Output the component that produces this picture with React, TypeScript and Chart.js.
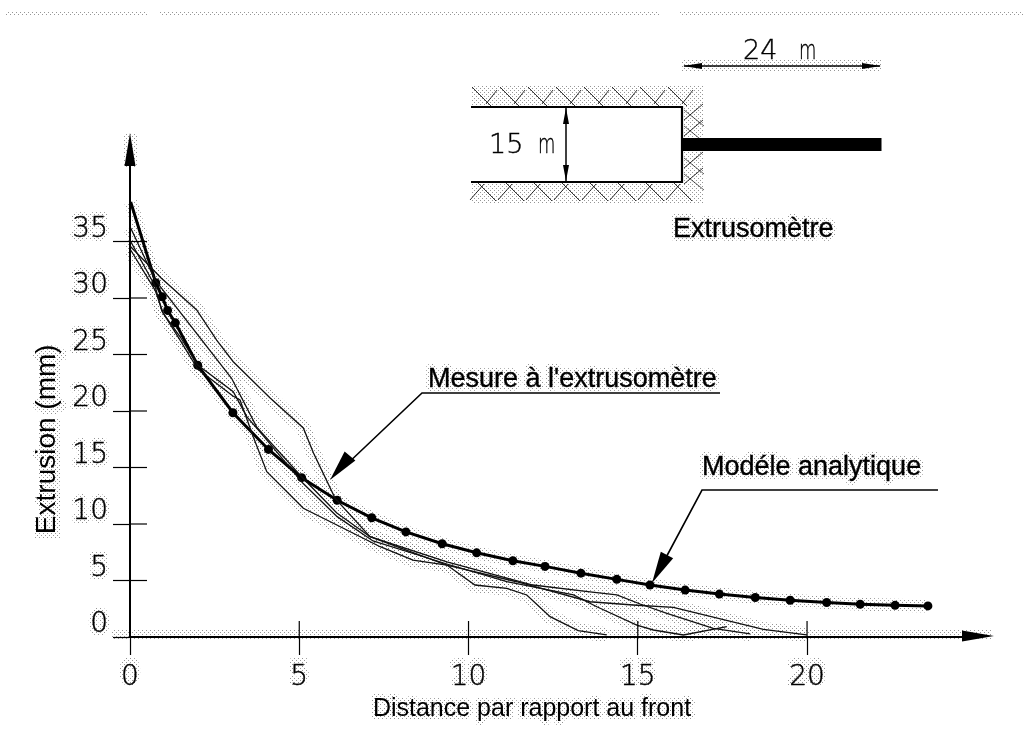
import React, { useEffect, useRef } from "react";
import { Chart, registerables } from "chart.js";

Chart.register(...registerables);

const xTickValues = [0, 5, 10, 15, 20];
const yTickValues = [0, 5, 10, 15, 20, 25, 30, 35];

const modelX = [0.02, 0.76, 0.95, 1.11, 1.34, 2.0, 3.04, 4.09, 5.07, 6.12, 7.14, 8.15, 9.22, 10.24, 11.31, 12.26, 13.32, 14.38, 15.36, 16.4, 17.41, 18.47, 19.5, 20.58, 21.57, 22.6, 23.57];
const modelY = [38.5, 31.35, 30.1, 28.9, 27.8, 24.05, 19.85, 16.6, 14.1, 12.1, 10.55, 9.3, 8.25, 7.45, 6.75, 6.25, 5.65, 5.1, 4.6, 4.15, 3.8, 3.5, 3.25, 3.05, 2.9, 2.8, 2.75];

const measureAX = [0.02, 0.92, 1.97, 2.56, 3.05, 4.14, 5.12, 5.42, 6.06, 7.09, 9.36, 11.42, 13.59, 14.86, 16.05, 18.71, 19.99];
const measureAY = [34.54, 31.77, 28.94, 26.28, 24.36, 21.15, 18.5, 16.28, 12.27, 8.88, 6.37, 4.89, 3.12, 2.83, 2.63, 0.68, 0.18];

const measureBX = [0.02, 0.74, 3.0, 3.74, 5.02, 6.11, 7.09, 9.36, 11.9, 13.59, 14.38, 15.07, 15.86, 17.23, 18.32];
const measureBY = [36.2, 31.6, 22.9, 18.6, 14.34, 10.97, 8.88, 6.64, 4.6, 4.0, 3.72, 2.92, 2.1, 0.77, 0.27];

const measureCX = [0.02, 0.74, 0.98, 1.48, 2.0, 3.05, 3.45, 3.94, 5.11, 6.12, 7.18, 9.36, 11.13, 13.1, 13.79, 14.97, 15.46, 16.35, 17.63];
const measureCY = [34.25, 30.7, 28.67, 26.57, 24.07, 21.7, 19.5, 17.8, 13.6, 10.65, 8.5, 6.46, 4.89, 3.72, 2.68, 1.06, 0.62, 0.18, 0.91];

const measureDX = [0.02, 0.74, 0.94, 1.48, 2.0, 3.04, 3.25, 3.64, 4.04, 5.12, 6.11, 7.39, 8.36, 9.36, 10.19, 11.13, 11.72, 12.41, 13.24, 14.08];
const measureDY = [35.0, 31.06, 28.85, 26.28, 23.72, 21.33, 20.97, 17.73, 14.63, 11.39, 9.91, 7.99, 6.81, 6.37, 4.6, 4.31, 3.72, 1.8, 0.56, 0.18];

const zip = (xs: number[], ys: number[]) => xs.map((x, i) => ({ x, y: ys[i] }));

const SANS = '"Liberation Sans", Arial, sans-serif';
const THIN = '"DejaVu Sans", sans-serif';

function stipple(ctx: CanvasRenderingContext2D) {
  const t = document.createElement("canvas");
  t.width = 4;
  t.height = 4;
  const c = t.getContext("2d")!;
  c.fillStyle = "rgba(105,105,105,0.7)";
  c.fillRect(0, 0, 1, 1);
  c.fillRect(2, 2, 1, 1);
  return ctx.createPattern(t, "repeat")!;
}

function arrow(ctx: CanvasRenderingContext2D, tx: number, ty: number, bx: number, by: number, hw: number) {
  const dx = bx - tx;
  const dy = by - ty;
  const l = Math.hypot(dx, dy);
  const nx = (-dy / l) * hw;
  const ny = (dx / l) * hw;
  ctx.beginPath();
  ctx.moveTo(tx, ty);
  ctx.lineTo(bx + nx, by + ny);
  ctx.lineTo(bx - nx, by - ny);
  ctx.closePath();
  ctx.fill();
}

function seg(ctx: CanvasRenderingContext2D, pts: number[][], w: number) {
  ctx.lineWidth = w;
  ctx.beginPath();
  pts.forEach((p, i) => (i ? ctx.lineTo(p[0], p[1]) : ctx.moveTo(p[0], p[1])));
  ctx.stroke();
}

const texts: [string, number, number, string, number][] = [
  ["Mesure à l'extrusomètre", 428, 387, SANS, 27],
  ["Modéle analytique", 702, 475, SANS, 27],
  ["Extrusomètre", 673, 237, SANS, 27],
];

const backdrop = {
  id: "backdrop",
  beforeDraw(chart: any) {
    const { ctx, scales } = chart;
    const pat = stipple(ctx);
    const x = scales.x;
    const y = scales.y;
    ctx.save();
    ctx.fillStyle = "#fff";
    ctx.fillRect(0, 0, chart.width, chart.height);
    ctx.fillStyle = pat;
    // scan band at the top of the page
    ctx.fillRect(5, 11, 143, 4);
    ctx.fillRect(160, 11, 499, 4);
    ctx.fillRect(679, 11, 345, 4);
    // speckle along the axes
    const y0 = y.getPixelForValue(0);
    const x0 = x.getPixelForValue(0);
    ctx.fillRect(112, y0 - 8, 880, 11);
    ctx.fillRect(x0 - 7, 133, 14, 34);
    ctx.fillRect(682, 60, 200, 11);
    // speckle of the rock hatching
    ctx.fillRect(471, 86, 232, 20);
    ctx.fillRect(471, 184, 232, 20);
    ctx.fillRect(684, 106, 19, 78);
    // speckle behind the curves
    ctx.strokeStyle = pat;
    ctx.lineJoin = "round";
    chart.data.datasets.forEach((d: any) => {
      ctx.lineWidth = d.borderWidth > 2 ? 13 : 15;
      ctx.beginPath();
      d.data.forEach((p: any, i: number) => {
        const px = x.getPixelForValue(p.x);
        const py = y.getPixelForValue(p.y);
        if (i) ctx.lineTo(px, py);
        else ctx.moveTo(px, py);
      });
      ctx.stroke();
    });
    // speckle behind texts
    ctx.lineWidth = 8;
    texts.forEach(([s, tx, ty, f, sz]) => {
      ctx.font = `${sz}px ${f}`;
      ctx.strokeText(s, tx, ty);
    });
    ctx.font = `25px ${SANS}`;
    ctx.strokeText("Distance par rapport au front", 373, 716);
    // behind tick labels
    ctx.font = `200 28px ${THIN}`;
    ctx.textBaseline = "middle";
    ctx.textAlign = "right";
    yTickValues.forEach((v) => ctx.strokeText(String(v), 108, y.getPixelForValue(v) - 12));
    ctx.textAlign = "center";
    xTickValues.forEach((v) => ctx.strokeText(String(v), x.getPixelForValue(v), 675));
    ctx.textBaseline = "alphabetic";
    ctx.save();
    ctx.translate(47, 442);
    ctx.rotate(-Math.PI / 2);
    ctx.font = `28px ${SANS}`;
    ctx.strokeText("Extrusion (mm)", 0, 10);
    ctx.restore();
    ctx.restore();
  },
};

const overlay = {
  id: "overlay",
  afterDraw(chart: any) {
    const { ctx, scales } = chart;
    const x = scales.x;
    const y = scales.y;
    const x0 = x.getPixelForValue(0);
    const y0 = y.getPixelForValue(0);
    ctx.save();
    ctx.strokeStyle = "#000";
    ctx.fillStyle = "#000";
    ctx.lineCap = "butt";
    // inner halves of ticks
    xTickValues.forEach((v) => {
      const px = x.getPixelForValue(v);
      seg(ctx, [[px, y0 - 16], [px, y0]], 1.2);
    });
    yTickValues.forEach((v) => {
      const py = y.getPixelForValue(v);
      seg(ctx, [[x0, py], [x0 + 17, py]], 1.2);
    });
    // axis extensions and arrow heads
    seg(ctx, [[x.right, y0], [965, y0]], 2);
    arrow(ctx, 994, y0 - 1, 962, y0 - 1, 5.5);
    seg(ctx, [[x0, y.top], [x0, 160]], 2);
    arrow(ctx, x0, 133, x0, 166, 5.5);

    // callouts
    seg(ctx, [[720, 393], [422, 393], [345, 466]], 1.6);
    arrow(ctx, 330, 480, 350, 456, 7);
    seg(ctx, [[938, 490], [702, 490], [662, 565]], 1.6);
    arrow(ctx, 652, 583, 667, 555, 7);

    // hatching of the rock around the gallery
    ctx.strokeStyle = "rgba(0,0,0,0.8)";
    for (let hx = 472; hx < 680; hx += 28) {
      seg(ctx, [[hx, 87], [hx + 19, 106]], 1);
      seg(ctx, [[hx + 14, 104], [hx + 25, 90]], 1);
      seg(ctx, [[hx + 6, 183], [hx + 24, 201]], 1);
      seg(ctx, [[hx - 2, 200], [hx + 12, 184]], 1);
    }
    for (let hy = 108; hy < 182; hy += 16) {
      if (hy > 124 && hy < 150) continue;
      seg(ctx, [[684, hy + 12], [703, hy - 4]], 1);
      seg(ctx, [[684, hy + 2], [704, hy + 18]], 0.8);
    }

    // inset
    ctx.strokeStyle = "#000";
    seg(ctx, [[471, 107], [682, 107], [682, 182], [471, 182]], 2.2);
    ctx.fillRect(682, 138, 199.5, 13);
    seg(ctx, [[566, 108], [566, 181]], 1.5);
    arrow(ctx, 566, 108, 566, 124, 3);
    arrow(ctx, 566, 181, 566, 165, 3);
    seg(ctx, [[684, 66], [880, 66]], 1.5);
    arrow(ctx, 683, 66, 702, 66, 3);
    arrow(ctx, 881, 66, 862, 66, 3);

    // texts
    ctx.textBaseline = "alphabetic";
    ctx.lineWidth = 0.35;
    texts.forEach(([s, tx, ty, f, sz]) => {
      ctx.font = `${sz}px ${f}`;
      ctx.fillText(s, tx, ty);
      ctx.strokeText(s, tx, ty);
    });
    ctx.font = `200 27px ${THIN}`;
    ctx.lineWidth = 0.4;
    const narrowM = (mx: number, my: number) => {
      ctx.save();
      ctx.translate(mx, my);
      ctx.scale(0.66, 1);
      ctx.fillText("m", 0, 0);
      ctx.strokeText("m", 0, 0);
      ctx.restore();
    };
    ctx.fillText("15", 489, 153);
    ctx.strokeText("15", 489, 153);
    narrowM(538, 153);
    ctx.fillText("24", 743, 59);
    ctx.strokeText("24", 743, 59);
    narrowM(799, 59);
    ctx.restore();
  },
};

export default function App() {
  const ref = useRef<HTMLCanvasElement>(null);
  useEffect(() => {
    const chart = new Chart(ref.current!, {
      type: "line",
      data: {
        datasets: [
          { label: "Mesure 1", data: zip(measureAX, measureAY), borderColor: "#111", borderWidth: 1.3, pointRadius: 0, tension: 0, clip: false },
          { label: "Mesure 2", data: zip(measureBX, measureBY), borderColor: "#111", borderWidth: 1.3, pointRadius: 0, tension: 0, clip: false },
          { label: "Mesure 3", data: zip(measureCX, measureCY), borderColor: "#111", borderWidth: 1.3, pointRadius: 0, tension: 0, clip: false },
          { label: "Mesure 4", data: zip(measureDX, measureDY), borderColor: "#111", borderWidth: 1.3, pointRadius: 0, tension: 0, clip: false },
          { label: "Modèle analytique", data: zip(modelX, modelY), borderColor: "#000", backgroundColor: "#000", borderWidth: 3, pointRadius: 4.5, pointBackgroundColor: "#000", pointBorderWidth: 0, tension: 0, clip: false },
        ] as any,
      },
      options: {
        animation: false,
        responsive: false,
        layout: { padding: { top: 241.5, right: 92, left: 0, bottom: 0 } },
        plugins: { legend: { display: false }, tooltip: { enabled: false } },
        scales: {
          x: {
            type: "linear",
            min: 0,
            max: 23.75,
            afterFit: (s: any) => { s.height = 104; },
            afterBuildTicks: (s: any) => { s.ticks = xTickValues.map((value) => ({ value })); },
            grid: { drawOnChartArea: false, tickLength: 18, tickColor: "#000", tickWidth: 1.2 },
            border: { color: "#000", width: 2 },
            ticks: { color: "#000", textStrokeColor: "#000", textStrokeWidth: 0.4, padding: 6, maxRotation: 0, autoSkip: false, font: { family: "DejaVu Sans", size: 28, weight: "200" } },
            title: { display: true, text: "Distance par rapport au front", color: "#000", font: { family: "Liberation Sans", size: 25 }, padding: { top: 0, bottom: 17 } },
          },
          y: {
            type: "linear",
            min: 0,
            max: 35,
            afterFit: (s: any) => { s.width = 130; },
            afterBuildTicks: (s: any) => { s.ticks = yTickValues.map((value) => ({ value })); },
            grid: { drawOnChartArea: false, tickLength: 17, tickColor: "#000", tickWidth: 1.2 },
            border: { color: "#000", width: 2 },
            ticks: { color: "#000", textStrokeColor: "#000", textStrokeWidth: 0.4, padding: 5, labelOffset: -12, autoSkip: false, font: { family: "DejaVu Sans", size: 28, weight: "200" } },
            title: { display: true, text: "Extrusion (mm)", color: "#000", font: { family: "Liberation Sans", size: 28 }, padding: { top: 30, bottom: 0 } },
          },
        },
      },
      plugins: [backdrop, overlay],
    } as any);
    return () => chart.destroy();
  }, []);
  return (
    <div style={{ position: "absolute", left: 0, top: 0, width: 1026, height: 741, background: "#fff" }}>
      <canvas ref={ref} width={1026} height={741} style={{ display: "block" }} />
    </div>
  );
}
